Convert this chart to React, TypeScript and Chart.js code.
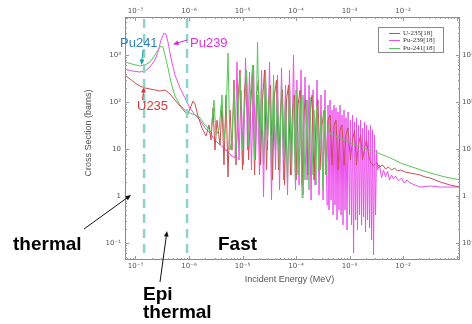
import React, { useEffect, useRef } from 'react';
import { Chart, registerables } from 'chart.js';

Chart.register(...registerables);

// ---------- data ----------
const seriesLabels = ['U-235[18]', 'Pu-239[18]', 'Pu-241[18]'];
const seriesColors = ['#c8504e', '#ec4fec', '#58c658'];

// U-235 (incident energy in MeV, cross section in barns)
const u235Energy = [
  6.3e-8, 7.9e-8, 9.8e-8, 1.21e-7, 1.51e-7, 1.87e-7, 2.31e-7, 2.87e-7, 3.56e-7, 4.41e-7, 5.47e-7, 6.8e-7, 8.4e-7, 9.57e-7,
  1.09e-6, 1.19e-6, 1.3e-6, 1.47e-6, 1.75e-6, 2.08e-6,
  2.37e-6, 2.58e-6, 2.81e-6, 3.06e-6, 3.34e-6, 3.8e-6, 4.14e-6, 4.51e-6, 4.92e-6, 5.36e-6, 5.84e-6, 6.36e-6, 6.94e-6, 7.56e-6, 8.24e-6, 8.98e-6,
  1.0e-5, 1.09e-5, 1.19e-5, 1.3e-5, 1.41e-5, 1.54e-5, 1.68e-5, 1.83e-5, 1.99e-5, 2.17e-5, 2.37e-5, 2.58e-5, 2.81e-5, 3.06e-5,
  3.34e-5, 3.64e-5, 3.96e-5, 4.32e-5, 4.71e-5, 5.13e-5, 5.59e-5, 6.1e-5, 6.64e-5, 7.24e-5, 7.89e-5, 8.6e-5, 9.37e-5,
  1.0e-4, 1.09e-4, 1.19e-4, 1.3e-4, 1.41e-4, 1.54e-4, 1.68e-4, 1.83e-4, 1.99e-4, 2.17e-4, 2.37e-4, 2.58e-4, 2.81e-4, 3.06e-4,
  3.34e-4, 3.64e-4, 3.96e-4, 4.32e-4, 4.71e-4, 5.13e-4, 5.59e-4, 6.1e-4, 6.64e-4, 7.24e-4, 7.89e-4, 8.6e-4, 9.37e-4,
  1.04e-3, 1.14e-3, 1.24e-3, 1.35e-3, 1.47e-3, 1.61e-3, 1.75e-3, 1.91e-3, 2.08e-3, 2.27e-3, 2.47e-3, 2.81e-3, 3.2e-3,
  3.64e-3, 4.14e-3, 4.71e-3, 5.36e-3, 6.1e-3, 6.94e-3, 7.89e-3, 8.98e-3,
  1.09e-2, 1.35e-2, 1.68e-2, 2.08e-2, 2.58e-2, 3.2e-2, 4.92e-2, 7.56e-2, 0.117,
];
const u235Sigma = [
  376, 309, 254, 219, 199, 189, 180, 171, 180, 148, 110, 82, 61.3, 55.5,
  82, 105, 90.7, 50.3, 28, 18.9,
  32.4, 15.5, 74.5, 9.5, 41, 12.2, 86, 4.57, 141, 2.54, 67.6, 9.5, 294, 4.57, 110, 480,
  3.57, 180, 376, 5.83, 67.6, 435, 2.8, 141, 294, 4.57, 110, 480, 3.57, 86,
  230, 2.19, 141, 294, 3.57, 67.6, 180, 1.71, 110, 230, 2.8, 67.6, 141,
  2.19, 86, 180, 1.71, 67.6, 110, 2.8, 52.9, 141, 2.19, 41, 110, 3.57, 32.4,
  67.6, 2.8, 41, 52.9, 4.57, 32.4, 41, 3.57, 25.4, 32.4, 4.57, 19.9, 28,
  5.83, 15.5, 25.4, 4.57, 12.2, 19.9, 5.83, 10.5, 15.5, 7.45, 5.29, 4.35, 5.03,
  4.14, 4.57, 3.76, 4.14, 3.57, 3.94, 3.4, 3.57,
  3.24, 3.09, 2.94, 2.8, 2.54, 2.42, 1.99, 1.71, 1.55,
];

// Pu-239
const pu239Energy = [
  6.3e-8, 8.6e-8, 1.21e-7, 1.51e-7, 1.87e-7, 2.31e-7, 2.63e-7, 3.0e-7, 3.4e-7, 3.7e-7, 4.05e-7, 4.6e-7, 5.47e-7, 6.8e-7, 8.4e-7,
  1.04e-6, 1.3e-6, 1.61e-6, 1.99e-6, 2.47e-6, 3.06e-6, 3.8e-6, 4.51e-6, 5.36e-6, 6.36e-6, 7.24e-6,
  7.89e-6, 8.6e-6, 9.37e-6, 1.04e-5, 1.14e-5, 1.24e-5, 1.35e-5, 1.47e-5, 1.61e-5, 1.75e-5, 1.91e-5, 2.08e-5, 2.27e-5, 2.47e-5, 2.69e-5,
  2.93e-5, 3.2e-5, 3.48e-5, 3.8e-5, 4.14e-5, 4.51e-5, 4.92e-5, 5.36e-5, 5.84e-5, 6.36e-5, 6.94e-5, 7.56e-5, 8.24e-5, 8.98e-5, 9.79e-5,
  1.04e-4, 1.14e-4, 1.24e-4, 1.35e-4, 1.47e-4, 1.61e-4, 1.75e-4, 1.91e-4, 2.08e-4, 2.27e-4, 2.47e-4, 2.69e-4, 2.93e-4, 3.2e-4, 3.48e-4,
  3.8e-4, 3.96e-4, 4.14e-4, 4.32e-4, 4.51e-4, 4.71e-4, 4.92e-4, 5.13e-4, 5.36e-4, 5.59e-4, 5.84e-4, 6.1e-4, 6.36e-4, 6.64e-4, 6.94e-4,
  7.24e-4, 7.56e-4, 7.89e-4, 8.24e-4, 8.6e-4, 8.98e-4, 9.37e-4,
  1.0e-3, 1.04e-3, 1.09e-3, 1.14e-3, 1.19e-3, 1.24e-3, 1.3e-3, 1.35e-3, 1.41e-3, 1.47e-3, 1.54e-3, 1.61e-3, 1.68e-3, 1.75e-3,
  1.83e-3, 1.91e-3, 1.99e-3, 2.08e-3, 2.17e-3, 2.27e-3, 2.37e-3, 2.47e-3, 2.58e-3, 2.69e-3, 2.81e-3, 2.93e-3, 3.06e-3, 3.2e-3,
  3.34e-3, 3.64e-3, 3.96e-3, 4.32e-3, 4.71e-3, 5.13e-3, 5.59e-3, 6.1e-3, 6.64e-3, 7.24e-3, 8.24e-3, 9.37e-3,
  1.04e-2, 1.19e-2, 1.35e-2, 1.68e-2, 2.08e-2, 3.2e-2, 4.92e-2, 7.56e-2, 0.117,
];
const pu239Sigma = [
  503, 457, 435, 457, 555, 783, 1158, 2084, 2940, 2800, 1890, 863, 376, 199, 122,
  74.5, 52.9, 41, 28, 21.9, 15.5, 12.2, 10.5, 8.63, 7.1, 6.43,
  710, 5.83, 180, 4.57, 863, 9.5, 435, 3.57, 613, 5.83, 141, 2.8, 480, 0.952, 294,
  9.5, 710, 0.822, 180, 3.57, 376, 1.34, 529, 2.19, 230, 1.05, 480, 2.8, 1000, 1.34,
  294, 1.71, 480, 1.05, 340, 2.19, 230, 0.822, 180, 1.71, 294, 1.05, 141, 0.822, 180,
  0.643, 86, 0.503, 110, 0.822, 67.6, 0.394, 86, 0.643, 74.5, 0.309, 61.3, 0.503, 86, 0.394,
  52.9, 0.242, 67.6, 0.503, 46, 0.189, 61.3,
  0.394, 41, 0.242, 52.9, 0.061, 37.6, 0.309, 46, 0.189, 32.4, 0.394, 41, 0.242, 28,
  0.357, 37.6, 0.171, 32.4, 0.309, 25.4, 0.209, 32.4, 0.116, 25.4, 0.0555, 19.9, 0.394, 9.5,
  3.57, 4.57, 2.42, 3.57, 2.54, 3.4, 2.19, 2.8, 2.3, 2.67, 2.09, 2.42,
  1.89, 2.19, 1.89, 1.71, 1.55, 1.63, 1.55, 1.55, 1.55,
];

// Pu-241
const pu241Energy = [
  6.3e-8, 8.6e-8, 1.21e-7, 1.51e-7, 1.87e-7, 2.31e-7, 2.63e-7, 3.0e-7, 3.27e-7, 3.56e-7, 4.05e-7, 4.6e-7, 5.47e-7, 6.8e-7, 8.4e-7,
  1.04e-6, 1.29e-6, 1.61e-6, 1.99e-6,
  2.27e-6, 2.58e-6, 2.93e-6, 3.2e-6, 3.64e-6, 4.14e-6, 4.51e-6, 4.92e-6, 5.36e-6, 5.84e-6, 6.36e-6, 6.94e-6, 7.56e-6, 8.24e-6, 8.98e-6,
  1.0e-5, 1.09e-5, 1.19e-5, 1.3e-5, 1.41e-5, 1.54e-5, 1.68e-5, 1.83e-5, 1.91e-5, 2.08e-5, 2.27e-5, 2.47e-5, 2.69e-5, 2.93e-5,
  3.2e-5, 3.48e-5, 3.8e-5, 4.14e-5, 4.51e-5, 4.92e-5, 5.36e-5, 5.84e-5, 6.36e-5, 6.94e-5, 7.56e-5, 8.24e-5, 8.98e-5, 9.79e-5,
  1.0e-4, 1.09e-4, 1.19e-4, 1.3e-4, 1.35e-4, 1.47e-4, 1.61e-4, 1.75e-4, 1.83e-4, 1.99e-4, 2.17e-4, 2.37e-4, 2.47e-4, 2.69e-4,
  2.93e-4, 3.2e-4, 3.34e-4, 3.64e-4, 3.96e-4, 4.32e-4,
  6.64e-4, 1.04e-3, 1.61e-3, 2.47e-3, 3.06e-3, 5.84e-3, 8.98e-3, 1.68e-2, 3.2e-2, 6.1e-2, 0.117,
];
const pu241Sigma = [
  710, 643, 583, 613, 710, 1000, 1280, 1550, 1480, 1000, 529, 267, 134, 86, 67.6,
  58, 53, 46, 32,
  28, 23, 110, 19.9, 25.4, 141, 15.5, 46, 1103, 9.5, 15.5, 180, 7.45, 41, 376,
  9.5, 67.6, 480, 12.2, 141, 613, 5.83, 110, 1890, 9.5, 230, 4.57, 480, 15.5,
  180, 3.57, 376, 9.5, 141, 2.8, 294, 5.83, 110, 1.71, 230, 3.57, 141, 1.34,
  180, 2.8, 110, 0.907, 141, 2.19, 110, 1.34, 128, 2.8, 67.6, 1.71, 86, 3.57,
  52.9, 1.34, 67.6, 2.8, 32.4, 21.9,
  17.1, 13.4, 11.0, 9.5, 8.63, 6.43, 5.03, 3.94, 3.09, 2.54, 2.19,
];

const xTickValues = [1e-7, 1e-6, 1e-5, 1e-4, 1e-3, 1e-2];
const xTickLabels = ['10⁻⁷', '10⁻⁶', '10⁻⁵', '10⁻⁴', '10⁻³', '10⁻²'];
const yTickValues = [0.1, 1, 10, 100, 1000];
const yTickLabels = ['10⁻¹', '1', '10', '10²', '10³'];
const xRange = [6.37e-8, 0.116];
const yRange = [0.0434, 6440];
// thermal / epithermal / fast region boundaries (MeV)
const regionBoundaries = [1.45e-7, 9.2e-7];

// ---------- annotations (canvas pixels) ----------
const notes = [
  { text: 'Pu241', x: 120, y: 47, color: '#2f83bd', font: '13px "Liberation Sans", Arial, sans-serif' },
  { text: 'Pu239', x: 190, y: 47, color: '#e032e0', font: '13px "Liberation Sans", Arial, sans-serif' },
  { text: 'U235', x: 137, y: 110, color: '#d83a3a', font: '13px "Liberation Sans", Arial, sans-serif' },
  { text: 'thermal', x: 13, y: 250, color: '#000', font: 'bold 19px "Liberation Sans", Arial, sans-serif' },
  { text: 'Fast', x: 218, y: 250, color: '#000', font: 'bold 19px "Liberation Sans", Arial, sans-serif' },
  { text: 'Epi', x: 143, y: 300, color: '#000', font: 'bold 19px "Liberation Sans", Arial, sans-serif' },
  { text: 'thermal', x: 143, y: 318, color: '#000', font: 'bold 19px "Liberation Sans", Arial, sans-serif' },
];
const arrows = [
  { from: [143, 50], to: [141.5, 65], color: '#17a3a3' },
  { from: [187, 40], to: [173, 44.5], color: '#e020e0' },
  { from: [142.5, 100], to: [144, 87], color: '#e03030' },
  { from: [84, 229], to: [131, 195], color: '#111' },
  { from: [160, 282], to: [167, 231], color: '#111' },
];

const labelFor = (vals: number[], labels: string[]) => (v: any) => {
  const n = Number(v);
  const i = vals.findIndex((t) => Math.abs(Math.log10(t) - Math.log10(n)) < 1e-6);
  return i >= 0 ? labels[i] : '';
};

const tickFont = { family: '"DejaVu Sans", sans-serif', size: 7 };

function makeScale(kind: 'x' | 'y', position: string, size: number, padding: number) {
  const isX = kind === 'x';
  const vals = isX ? xTickValues : yTickValues;
  const labels = isX ? xTickLabels : yTickLabels;
  const range = isX ? xRange : yRange;
  return {
    type: 'logarithmic',
    position,
    bounds: 'data',
    min: range[0],
    max: range[1],
    afterBuildTicks: (s: any) => {
      s.ticks = vals.map((value) => ({ value }));
    },
    afterFit: (s: any) => {
      if (isX) s.height = size;
      else s.width = size;
    },
    ticks: {
      autoSkip: false,
      maxRotation: 0,
      padding,
      font: tickFont,
      color: '#555',
      callback: labelFor(vals, labels),
    },
    grid: { display: false, drawTicks: false, drawOnChartArea: false },
    border: { display: false },
  };
}

function drawArrow(ctx: CanvasRenderingContext2D, a: any) {
  const [x1, y1] = a.from;
  const [x2, y2] = a.to;
  const ang = Math.atan2(y2 - y1, x2 - x1);
  const L = 6;
  ctx.strokeStyle = a.color;
  ctx.fillStyle = a.color;
  ctx.lineWidth = 1;
  ctx.beginPath();
  ctx.moveTo(x1, y1);
  ctx.lineTo(x2 - Math.cos(ang) * 3, y2 - Math.sin(ang) * 3);
  ctx.stroke();
  ctx.beginPath();
  ctx.moveTo(x2, y2);
  ctx.lineTo(x2 - L * Math.cos(ang - 0.4), y2 - L * Math.sin(ang - 0.4));
  ctx.lineTo(x2 - L * Math.cos(ang + 0.4), y2 - L * Math.sin(ang + 0.4));
  ctx.closePath();
  ctx.fill();
}

const overlayPlugin = {
  id: 'overlay',
  afterDatasetsDraw(chart: any) {
    const { ctx, chartArea: a, scales } = chart;
    ctx.save();
    ctx.strokeStyle = '#8fd3c8';
    ctx.lineWidth = 2.5;
    ctx.setLineDash([9, 6]);
    regionBoundaries.forEach((e) => {
      const px = scales.x.getPixelForValue(e);
      ctx.beginPath();
      ctx.moveTo(px, a.top + 2);
      ctx.lineTo(px, a.bottom);
      ctx.stroke();
    });
    ctx.restore();
  },
  afterDraw(chart: any) {
    const { ctx, chartArea: a, scales } = chart;
    ctx.save();
    // frame
    ctx.strokeStyle = '#8a8a8a';
    ctx.lineWidth = 1;
    ctx.strokeRect(Math.round(a.left) + 0.5, Math.round(a.top) + 0.5, Math.round(a.right - a.left) - 1, Math.round(a.bottom - a.top) - 1);
    // inward ticks (major + minor) on all four sides
    ctx.strokeStyle = '#9a9a9a';
    const drawTicks = (scale: any, horizontal: boolean, range: number[]) => {
      const d0 = Math.floor(Math.log10(range[0]));
      const d1 = Math.ceil(Math.log10(range[1]));
      for (let d = d0; d <= d1; d++) {
        for (let m = 1; m <= 9; m++) {
          const v = m * Math.pow(10, d);
          if (v < range[0] || v > range[1]) continue;
          const p = Math.round(scale.getPixelForValue(v)) + 0.5;
          const len = m === 1 ? 4 : 2;
          ctx.beginPath();
          if (horizontal) {
            ctx.moveTo(p, a.bottom); ctx.lineTo(p, a.bottom - len);
            ctx.moveTo(p, a.top); ctx.lineTo(p, a.top + len);
          } else {
            ctx.moveTo(a.left, p); ctx.lineTo(a.left + len, p);
            ctx.moveTo(a.right, p); ctx.lineTo(a.right - len, p);
          }
          ctx.stroke();
        }
      }
    };
    drawTicks(scales.x, true, xRange);
    drawTicks(scales.y, false, yRange);

    // axis titles
    ctx.fillStyle = '#555';
    ctx.font = '9px "Liberation Sans", Arial, sans-serif';
    ctx.textAlign = 'center';
    ctx.textBaseline = 'alphabetic';
    ctx.fillText('Incident Energy (MeV)', (a.left + a.right) / 2 - 3, 282);
    ctx.save();
    ctx.translate(91, 133);
    ctx.rotate(-Math.PI / 2);
    ctx.fillText('Cross Section (barns)', 0, 0);
    ctx.restore();

    // legend
    const lx = 378, ly = 27, lw = 65, lh = 25;
    ctx.fillStyle = '#fff';
    ctx.fillRect(lx, ly, lw, lh);
    ctx.strokeStyle = '#8a8a8a';
    ctx.strokeRect(lx + 0.5, ly + 0.5, lw, lh);
    ctx.font = '7px "Liberation Serif", serif';
    ctx.textAlign = 'left';
    ctx.textBaseline = 'middle';
    chart.data.datasets.forEach((ds: any, i: number) => {
      const y = ly + 5.5 + i * 7.5;
      ctx.strokeStyle = ds.borderColor;
      ctx.lineWidth = 1;
      ctx.beginPath();
      ctx.moveTo(389, Math.round(y) + 0.5);
      ctx.lineTo(400, Math.round(y) + 0.5);
      ctx.stroke();
      ctx.fillStyle = '#333';
      ctx.fillText(ds.label, 403, y + 0.5);
    });

    // annotations
    ctx.textAlign = 'left';
    ctx.textBaseline = 'alphabetic';
    notes.forEach((n) => {
      ctx.font = n.font;
      ctx.fillStyle = n.color;
      ctx.fillText(n.text, n.x, n.y);
    });
    arrows.forEach((ar) => drawArrow(ctx, ar));
    ctx.restore();
  },
};

export default function App() {
  const ref = useRef<HTMLCanvasElement>(null);
  useEffect(() => {
    const toPoints = (xs: number[], ys: number[]) => xs.map((x, i) => ({ x, y: ys[i] }));
    const chart = new Chart(ref.current as HTMLCanvasElement, {
      type: 'line',
      data: {
        datasets: [
          { label: seriesLabels[0], data: toPoints(u235Energy, u235Sigma), borderColor: seriesColors[0], borderWidth: 1, pointRadius: 0, order: 1 },
          { label: seriesLabels[1], data: toPoints(pu239Energy, pu239Sigma), borderColor: seriesColors[1], borderWidth: 1, pointRadius: 0, order: 2 },
          { label: seriesLabels[2], data: toPoints(pu241Energy, pu241Sigma), borderColor: seriesColors[2], borderWidth: 1, pointRadius: 0, order: 0 },
        ],
      },
      options: {
        responsive: false,
        animation: false,
        devicePixelRatio: 1,
        layout: { padding: 0 },
        plugins: { legend: { display: false }, tooltip: { enabled: false } },
        elements: { line: { tension: 0 } },
        scales: {
          x: makeScale('x', 'bottom', 64, 2),
          x2: makeScale('x', 'top', 17, 2),
          y: makeScale('y', 'left', 125, 4),
          y2: makeScale('y', 'right', 12, 2),
        } as any,
      },
      plugins: [overlayPlugin],
    } as any);
    return () => chart.destroy();
  }, []);
  return (
    <div style={{ position: 'fixed', left: 0, top: 0, width: 472, height: 324, background: '#fff' }}>
      <canvas ref={ref} width={472} height={324} style={{ display: 'block' }} />
    </div>
  );
}
